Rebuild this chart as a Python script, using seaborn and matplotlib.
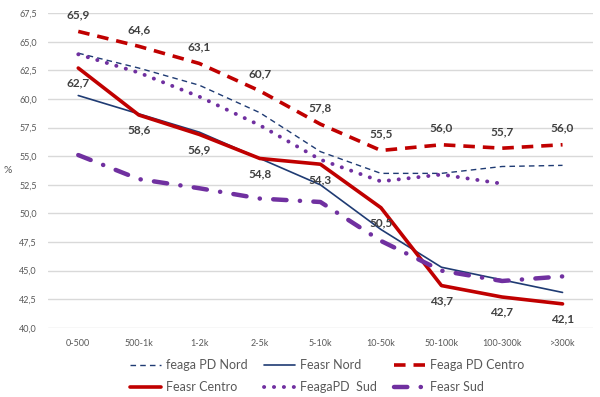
import seaborn as sns
import matplotlib.pyplot as plt
import pandas as pd
import numpy as np

categories = ['0-500', '500-1k', '1-2k', '2-5k', '5-10k', '10-50k', '50-100k', '100-300k', '>300k']

feaga_nord = [64.0, 62.7, 61.2, 58.8, 55.4, 53.5, 53.5, 54.1, 54.2]
feasr_nord = [60.3, 58.7, 57.1, 54.8, 52.5, 48.6, 45.3, 44.2, 43.1]
feaga_centro = [65.9, 64.6, 63.1, 60.7, 57.8, 55.5, 56.0, 55.7, 56.0]
feasr_centro = [62.7, 58.6, 56.9, 54.8, 54.3, 50.5, 43.7, 42.7, 42.1]
feaga_sud = [63.9, 62.3, 60.2, 57.7, 54.7, 52.8, 53.4, 52.6]
feasr_sud = [55.1, 53.0, 52.2, 51.3, 51.0, 47.6, 45.0, 44.1, 44.5]

NAVY, RED, PURPLE = '#1F3B73', '#C00000', '#7030A0'
LABEL_C, TICK_C, GRID_C = '#404040', '#595959', '#D9D9D9'

sns.set_theme(style='whitegrid')
plt.rcParams['font.family'] = ['Lato', 'DejaVu Sans']

fig = plt.figure(figsize=(6, 3.97), dpi=100)
ax = fig.add_axes([0.08, 0.174, 0.908, 0.793])

series = [
    ('feaga PD Nord', feaga_nord, NAVY, 1.0, (0, (4, 3)), 'butt'),
    ('Feasr Nord', feasr_nord, NAVY, 1.2, '-', 'butt'),
    ('Feaga PD Centro', feaga_centro, RED, 2.6, (0, (3.2, 2.2)), 'butt'),
    ('Feasr Centro', feasr_centro, RED, 2.6, '-', 'butt'),
    ('FeagaPD  Sud', feaga_sud, PURPLE, 2.8, (0, (0.05, 2.5)), 'round'),
    ('Feasr Sud', feasr_sud, PURPLE, 3.2, (0, (3.0, 3.0, 0.05, 3.0)), 'round'),
]

for name, vals, color, lw, ls, cap in series:
    df = pd.DataFrame({'x': np.arange(len(vals)), 'y': vals})
    sns.lineplot(data=df, x='x', y='y', ax=ax, color=color, linewidth=lw,
                 linestyle=ls, dash_capstyle=cap, label=name)

def fmt(v):
    return f'{v:.1f}'.replace('.', ',')

for i, v in enumerate(feaga_centro):
    ax.annotate(fmt(v), (i, v), xytext=(0, 12), textcoords='offset points',
                ha='center', va='center', fontsize=8.5, fontweight='bold', color=LABEL_C)
for i, v in enumerate(feasr_centro):
    ax.annotate(fmt(v), (i, v), xytext=(0, -11), textcoords='offset points',
                ha='center', va='center', fontsize=8.5, fontweight='bold', color=LABEL_C)

ax.set_xlim(-0.5, len(categories) - 0.5)
ax.set_ylim(40, 67.5)
yt = np.arange(40, 67.6, 2.5)
ax.set_yticks(yt)
ax.set_yticklabels([fmt(t) for t in yt], fontsize=6.5, color=TICK_C)
ax.set_xticks(range(len(categories)))
ax.set_xticklabels(categories, fontsize=6.5, color=TICK_C)
ax.tick_params(axis='both', length=0, pad=8)
ax.grid(axis='y', color=GRID_C, lw=1)
ax.grid(axis='x', visible=False)
for sp in ax.spines.values():
    sp.set_visible(False)
ax.set_xlabel('')
ax.set_ylabel('%', rotation=0, fontsize=7.5, color=TICK_C, labelpad=8, va='center')

handles, labels = ax.get_legend_handles_labels()
ax.legend_.remove()
order = [0, 3, 1, 4, 2, 5]
fig.legend([handles[i] for i in order], [labels[i] for i in order], ncol=3,
           loc='center', bbox_to_anchor=(0.545, 0.053),
           frameon=False, fontsize=9, labelcolor=TICK_C, handlelength=2.5,
           handletextpad=0.4, columnspacing=1.3, labelspacing=0.8)

fig.savefig('out.png', dpi=100, facecolor='white')
